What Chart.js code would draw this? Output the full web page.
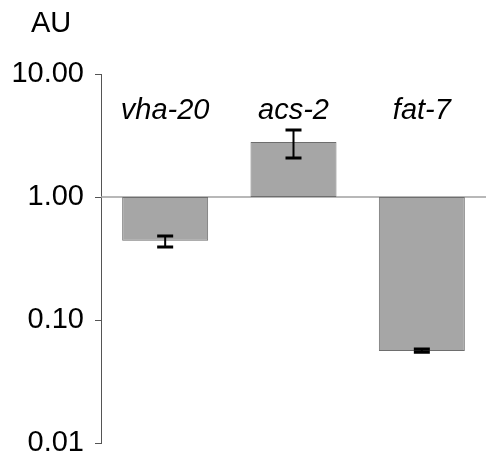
<!DOCTYPE html>
<html>
<head>
<meta charset="utf-8">
<script src="https://cdn.jsdelivr.net/npm/chart.js@4/dist/chart.umd.min.js"></script>
<style>
  html, body { margin: 0; padding: 0; background: #fff; }
  #wrap { position: relative; width: 486px; height: 462px; }
</style>
</head>
<body>
<div id="wrap"><canvas id="chart"></canvas></div>
<script>
// genes and relative expression (AU, log scale, baseline 1.00)
const genes = ['vha-20', 'acs-2', 'fat-7'];
const values = [0.44, 2.8, 0.056];
const errLow = [0.392, 2.08, 0.0548];
const errHigh = [0.482, 3.5, 0.0582];
const yTicks = [0.01, 0.1, 1, 10];

const FONT = 'Liberation Sans, Arial, sans-serif';

// floating bars start at 1.00
const barData = values.map(v => v < 1 ? [v, 1] : [1, v]);

const annotations = {
  id: 'annotations',
  beforeDatasetsDraw(chart) {
    const { ctx, chartArea } = chart;
    const y = chart.scales.y.getPixelForValue(1);
    ctx.save();
    ctx.strokeStyle = '#a0a0a0';
    ctx.lineWidth = 1.5;
    ctx.beginPath();
    ctx.moveTo(chartArea.left, y);
    ctx.lineTo(chart.width, y);
    ctx.stroke();
    ctx.restore();
  },
  afterDatasetsDraw(chart) {
    const { ctx } = chart;
    const ys = chart.scales.y;
    const meta = chart.getDatasetMeta(0);
    ctx.save();
    ctx.strokeStyle = '#000';
    meta.data.forEach((bar, i) => {
      const x = bar.x;
      const y1 = ys.getPixelForValue(errLow[i]);
      const y2 = ys.getPixelForValue(errHigh[i]);
      ctx.lineWidth = 2;
      ctx.beginPath();
      ctx.moveTo(x, y1);
      ctx.lineTo(x, y2);
      ctx.stroke();
      ctx.lineWidth = 3;
      ctx.beginPath();
      ctx.moveTo(x - 8, y1); ctx.lineTo(x + 8, y1);
      ctx.moveTo(x - 8, y2); ctx.lineTo(x + 8, y2);
      ctx.stroke();
    });

    // gene names above the bars
    ctx.fillStyle = '#000';
    ctx.font = 'italic 29px ' + FONT;
    ctx.textAlign = 'center';
    ctx.textBaseline = 'alphabetic';
    meta.data.forEach((bar, i) => {
      ctx.fillText(genes[i], bar.x, 119);
    });

    // unit label
    ctx.textAlign = 'left';
    ctx.font = '29px ' + FONT;
    ctx.fillText('AU', 31, 32);
    ctx.restore();
  }
};

new Chart(document.getElementById('chart'), {
  type: 'bar',
  data: {
    labels: genes,
    datasets: [{
      data: barData,
      backgroundColor: '#a6a6a6',
      borderColor: '#6e6e6e',
      borderWidth: 1,
      borderSkipped: false,
      categoryPercentage: 1,
      barPercentage: 0.67
    }]
  },
  options: {
    responsive: true,
    maintainAspectRatio: false,
    animation: false,
    layout: { padding: { top: 74, bottom: 19, left: 0, right: 0 } },
    plugins: {
      legend: { display: false },
      tooltip: { enabled: false }
    },
    scales: {
      x: { display: false, offset: true },
      y: {
        type: 'logarithmic',
        min: 0.01,
        max: 10,
        afterBuildTicks(scale) {
          scale.ticks = yTicks.map(v => ({ value: v }));
        },
        afterFit(scale) {
          scale.width = 101;
          scale.paddingTop = 0;
          scale.paddingBottom = 0;
        },
        border: { display: true, color: '#555', width: 1 },
        grid: { drawOnChartArea: false, drawTicks: true, tickLength: 6, color: '#555' },
        ticks: {
          color: '#000',
          padding: 11,
          font: { family: FONT, size: 29 },
          callback: v => Number(v).toFixed(2)
        }
      }
    }
  },
  plugins: [annotations]
});
</script>
</body>
</html>
